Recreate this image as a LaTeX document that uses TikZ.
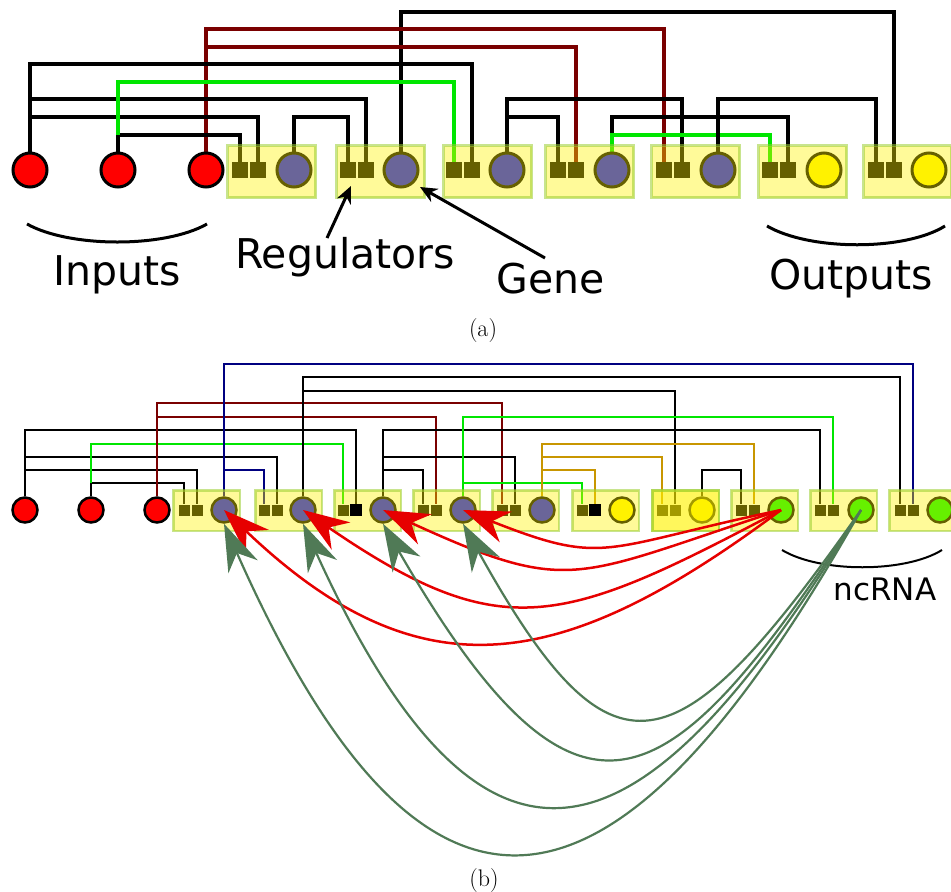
\documentclass[tikz,border=0pt]{standalone}
\usepackage{fontspec}
\newfontfamily\dejavu{DejaVu Sans}
\usetikzlibrary{arrows.meta}
\definecolor{dred}{RGB}{122,0,0}
\definecolor{wgreen}{RGB}{0,230,0}
\definecolor{wblue}{RGB}{0,0,128}
\definecolor{wgold}{RGB}{200,150,0}
\definecolor{genblue}{RGB}{8,8,255}
\definecolor{ncgreen}{RGB}{0,240,0}
\definecolor{boxedge}{RGB}{154,205,50}
\definecolor{arrred}{RGB}{230,0,0}
\definecolor{arrgreen}{RGB}{80,122,86}
\pgfdeclarelayer{wires}
\pgfdeclarelayer{over}
\pgfdeclarelayer{top}
\pgfsetlayers{wires,main,over,top}
\newcommand{\sigwire}[4]{\draw[#1] (#2) -- (#2 |- 0,#3) -| (#4.north);}
\tikzset{
  wa/.style={line width=3.2pt},
  wb/.style={line width=2.2pt},
  inpa/.style={circle, draw=black, fill=red, line width=3pt, minimum size=34pt, inner sep=0pt},
  inpb/.style={circle, draw=black, fill=red, line width=2.5pt, minimum size=25pt, inner sep=0pt},
  sqa/.style={rectangle, fill=black, minimum size=15.5pt, inner sep=0pt},
  sqb/.style={rectangle, fill=black, minimum size=11pt, inner sep=0pt},
  gena/.style={circle, draw=black, line width=3pt, minimum size=34pt, inner sep=0pt},
  genb/.style={circle, draw=black, line width=2.5pt, minimum size=25pt, inner sep=0pt},
  boxov/.style={fill=yellow, fill opacity=0.4, draw=boxedge, draw opacity=0.55},
  biglbl/.style={font=\dejavu\fontsize{41pt}{48pt}\selectfont, inner sep=0pt, anchor=base},
  smlbl/.style={font=\dejavu\fontsize{31pt}{36pt}\selectfont, inner sep=0pt, anchor=base},
  caplbl/.style={font=\fontsize{24pt}{28pt}\selectfont, inner sep=0pt, anchor=base},
  annarr/.style={line width=3pt, -{Stealth[length=17pt,width=15pt]}},
  redarr/.style={arrred, line width=2.5pt, -{Stealth[length=46pt,width=33pt,inset=15pt]}},
  grnarr/.style={arrgreen, line width=2.2pt, -{Stealth[length=47pt,width=32pt,inset=15pt]}},
  brace/.style={line width=3pt},
}
\begin{document}
\begin{tikzpicture}[x=1pt,y=-1pt]
\useasboundingbox (0,0) rectangle (951,892);
% ---------------- (a) ----------------
\node[inpa] (ia1) at (30,170) {};
\node[inpa] (ia2) at (118,170) {};
\node[inpa] (ia3) at (206,170) {};
\foreach \i/\L/\p/\q/\g/\c in {1/226/240/258/294/genblue, 2/335/348/366/401/genblue,
  3/442/454/472/507/genblue, 4/544/558/576/612/genblue, 5/650/664/682/718/genblue,
  6/757/770/788/824/yellow, 7/862/876/894/929/yellow}{
  \node[sqa] (aP\i) at (\p,170) {};
  \node[sqa] (aQ\i) at (\q,170) {};
  \node[gena, fill=\c] (aG\i) at (\g,170) {};
}
\begin{pgfonlayer}{over}
\foreach \L in {226,335,442,544,650,757,862}{
  \draw[boxov, line width=3pt] (\L+1.5,145.5) rectangle (\L+89.5,197.5);
}
\end{pgfonlayer}
\coordinate (ia2j) at (ia2.north |- 0,135);
\begin{pgfonlayer}{wires}
\sigwire{wa}{aG2.north}{12}{aQ7}
\sigwire{wa,dred}{ia3.north}{29}{aP5}
\sigwire{wa,dred}{ia3.north}{47}{aQ4}
\sigwire{wa}{ia1.north}{64}{aQ3}
\sigwire{wa}{ia1.north}{99}{aQ2}
\sigwire{wa}{ia1.north}{117}{aQ1}
\sigwire{wa}{ia2.north}{135}{aP1}
\sigwire{wa,wgreen}{ia2j}{82}{aP3}
\sigwire{wa}{aG1.north}{117}{aP2}
\sigwire{wa}{aG3.north}{99}{aQ5}
\sigwire{wa}{aG3.north}{117}{aP4}
\sigwire{wa}{aG4.north}{117}{aQ6}
\sigwire{wa,wgreen}{aG4.north}{135}{aP6}
\sigwire{wa}{aG5.north}{99}{aP7}
\end{pgfonlayer}
\draw[brace] (27,224) .. controls (70,248) and (165,248) .. (207,224);
\draw[brace] (767,226) .. controls (810,251) and (905,251) .. (945,226);
\node[biglbl] (tin) at (117,285) {Inputs};
\node[biglbl] (treg) at (345,268) {Regulators};
\node[biglbl] (tgene) at (551,293) {Gene};
\node[biglbl] (tout) at (851,289) {Outputs};
\coordinate (regtail) at (327,238);
\coordinate (regtip) at (351,186);
\coordinate (gentail) at (545,258);
\coordinate (gentip) at (420,187);
\begin{pgfonlayer}{top}
\draw[annarr] (regtail) -- (regtip);
\draw[annarr] (gentail) -- (gentip);
\end{pgfonlayer}
\node[caplbl] (capa) at (483,336) {(a)};
% ---------------- (b) ----------------
\node[inpb] (ib1) at (25,510) {};
\node[inpb] (ib2) at (91,510) {};
\node[inpb] (ib3) at (157,510) {};
\foreach \i/\L/\p/\q/\g/\c in {1/172/184/197/224/genblue, 2/254/264/277/303/genblue,
  3/333/343/356/383/genblue, 4/412/423/436/463/genblue, 5/491/502/515/542/genblue,
  6/571/582/595/622/yellow, 7/651/662/675/702/yellow, 8/730/741/754/781/ncgreen,
  9/809/820/833/861/ncgreen, 10/888/900/913/940/ncgreen}{
  \node[sqb] (bP\i) at (\p,510) {};
  \node[sqb] (bQ\i) at (\q,510) {};
  \node[genb, fill=\c] (bG\i) at (\g,510) {};
}
\begin{pgfonlayer}{over}
\foreach \L in {172,254,333,412,491,571,651,730,809,888}{
  \draw[boxov, line width=2.5pt] (\L+1.25,490.25) rectangle (\L+67.75,530.75);
}
\draw[boxov, line width=2.5pt] (652.25,490.25) rectangle (718.75,530.75);
\end{pgfonlayer}
\coordinate (ib2j) at (ib2.north |- 0,483);
\begin{pgfonlayer}{wires}
\sigwire{wb}{ib1.north}{430}{bQ3}
\sigwire{wb}{ib1.north}{457}{bQ2}
\sigwire{wb}{ib1.north}{470}{bQ1}
\sigwire{wb}{ib2.north}{483}{bP1}
\sigwire{wb,wgreen}{ib2j}{444}{bP3}
\sigwire{wb,dred}{ib3.north}{403}{bP5}
\sigwire{wb,dred}{ib3.north}{417}{bQ4}
\sigwire{wb,wblue}{bG1.north}{364}{bQ10}
\sigwire{wb,wblue}{bG1.north}{470}{bP2}
\sigwire{wb}{bG2.north}{377}{bP10}
\sigwire{wb}{bG2.north}{391}{bQ7}
\sigwire{wb}{bG3.north}{430}{bP9}
\sigwire{wb}{bG3.north}{457}{bQ5}
\sigwire{wb}{bG3.north}{470}{bP4}
\sigwire{wb,wgreen}{bG4.north}{417}{bQ9}
\sigwire{wb,wgreen}{bG4.north}{483}{bP6}
\sigwire{wb,wgold}{bG5.north}{444}{bQ8}
\sigwire{wb,wgold}{bG5.north}{457}{bP7}
\sigwire{wb,wgold}{bG5.north}{470}{bQ6}
\sigwire{wb}{bG7.north}{470}{bP8}
\end{pgfonlayer}
\begin{pgfonlayer}{top}
\fill (bQ3.south west) rectangle (bQ3.north east);
\fill (bQ6.south west) rectangle (bQ6.north east);
\draw[redarr] (bG8.center) .. controls (564,672) and (422,699) .. (bG1.center);
\draw[redarr] (bG8.center) .. controls (562,626) and (503,647) .. (bG2.center);
\draw[redarr] (bG8.center) .. controls (573,577) and (573,597) .. (bG3.center);
\draw[redarr] (bG8.center) .. controls (600,548) and (607,567) .. (bG4.center);
\draw[grnarr] (bG9.center) .. controls (628,923) and (435,1000) .. (bG1.south);
\draw[grnarr] (bG9.center) .. controls (660,840) and (498,953) .. (bG2.south);
\draw[grnarr] (bG9.center) .. controls (672,797) and (584,872) .. (bG3.south);
\draw[grnarr] (bG9.center) .. controls (675,775) and (612,792) .. (bG4.south);
\end{pgfonlayer}
\draw[line width=2pt] (782,550) .. controls (820,573) and (905,573) .. (942,550);
\node[smlbl] (tnc) at (885,600) {ncRNA};
\node[caplbl] (capb) at (484,886) {(b)};
\end{tikzpicture}
\end{document}
